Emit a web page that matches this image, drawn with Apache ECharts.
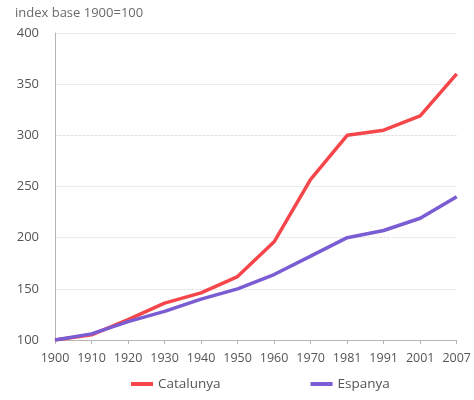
<!DOCTYPE html>
<html>
<head>
<meta charset="utf-8">
<script src="https://cdn.jsdelivr.net/npm/echarts@6/dist/echarts.min.js"></script>
<style>
  html, body { margin: 0; padding: 0; background: #fff; }
  #chart { width: 474px; height: 400px; }
</style>
</head>
<body>
<div id="chart"></div>
<script>
// dades: índex base 1900=100
var years = ['1900', '1910', '1920', '1930', '1940', '1950', '1960', '1970', '1981', '1991', '2001', '2007'];
var catalunya = [100, 105, 120, 136, 146, 162, 196, 257, 300, 305, 319, 360];
var espanya = [100, 106, 118, 128, 140, 150, 164, 182, 200, 207, 219, 240];
var yTicks = [100, 150, 200, 250, 300, 350, 400];

var chart = echarts.init(document.getElementById('chart'));

var font = 'Open Sans, sans-serif';

chart.setOption({
  animation: false,
  title: {
    text: 'index base 1900=100',
    left: 10,
    top: 2,
    textStyle: { fontFamily: font, fontSize: 13, fontWeight: 'normal', color: '#6a6a6a' }
  },
  legend: {
    bottom: 4,
    left: 126,
    itemGap: 90,
    itemWidth: 22,
    itemHeight: 4,
    icon: 'rect',
    textStyle: { fontFamily: font, fontSize: 13.5, color: '#555' },
    data: ['Catalunya', 'Espanya']
  },
  grid: { left: 55, right: 15, top: 33, bottom: 60 },
  xAxis: {
    type: 'category',
    data: years,
    boundaryGap: false,
    axisLine: { lineStyle: { color: '#b5b5b5', width: 1 } },
    axisTick: { show: true, alignWithLabel: true, length: 4, lineStyle: { color: '#b5b5b5' } },
    axisLabel: { fontFamily: font, fontSize: 12.5, color: '#555', margin: 12, interval: 0 }
  },
  yAxis: {
    type: 'value',
    min: yTicks[0],
    max: yTicks[yTicks.length - 1],
    interval: 50,
    axisLine: { show: true, lineStyle: { color: '#b5b5b5', width: 1 } },
    axisTick: { show: false },
    axisLabel: { fontFamily: font, fontSize: 13, color: '#555', margin: 16 },
    splitLine: { lineStyle: { color: '#e4e4e4', width: 1, type: [3, 1] } }
  },
  series: [
    {
      name: 'Catalunya',
      type: 'line',
      data: catalunya,
      symbol: 'none',
      itemStyle: { color: '#f5474b' },
      lineStyle: { width: 3.5, color: '#f5474b' }
    },
    {
      name: 'Espanya',
      type: 'line',
      data: espanya,
      symbol: 'none',
      itemStyle: { color: '#7a5cd3' },
      lineStyle: { width: 3.5, color: '#7a5cd3' }
    }
  ]
});
</script>
</body>
</html>
